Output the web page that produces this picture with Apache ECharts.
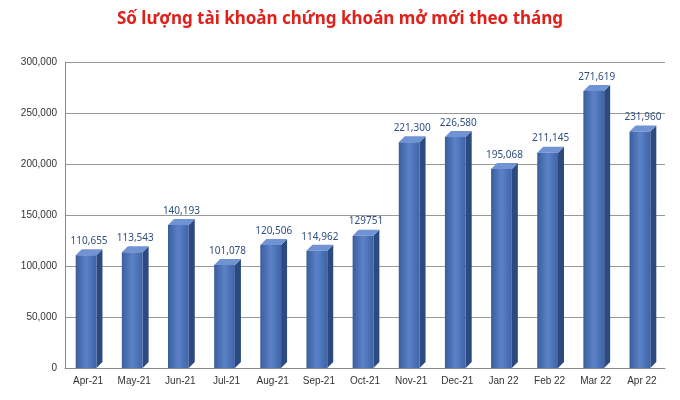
<!DOCTYPE html>
<html>
<head>
<meta charset="UTF-8">
<script src="https://cdn.jsdelivr.net/npm/echarts@6/dist/echarts.min.js"></script>
<style>
html,body{margin:0;padding:0;background:#fff;}
#main{width:680px;height:400px;}
</style>
</head>
<body>
<div id="main"></div>
<script>
var months = ['Apr-21','May-21','Jun-21','Jul-21','Aug-21','Sep-21','Oct-21','Nov-21','Dec-21','Jan 22','Feb 22','Mar 22','Apr 22'];
var accounts = [110655,113543,140193,101078,120506,114962,129751,221300,226580,195068,211145,271619,231960];
var valueLabels = ['110,655','113,543','140,193','101,078','120,506','114,962','129751','221,300','226,580','195,068','211,145','271,619','231,960'];

var chart = echarts.init(document.getElementById('main'));
var D = 6; // depth offset
chart.setOption({
  animation: false,
  title: {
    text: 'Số lượng tài khoản chứng khoán mở mới theo tháng',
    left: 'center', top: 6,
    textStyle: {color: '#e0201b', fontSize: 17, fontWeight: 'bold', fontFamily: 'Noto Sans'}
  },
  grid: {left: 65, right: 15, top: 62, bottom: 32},
  xAxis: {
    type: 'category', data: months,
    axisLine: {lineStyle: {color: '#888'}},
    axisTick: {show: false},
    axisLabel: {color: '#333', fontSize: 10, margin: 8}
  },
  yAxis: {
    type: 'value', min: 0, max: 300000, interval: 50000,
    axisLine: {show: true, lineStyle: {color: '#888'}},
    axisLabel: {color: '#333', fontSize: 10, formatter: function (v) { return v.toLocaleString('en-US'); }},
    splitLine: {lineStyle: {color: '#999'}}
  },
  series: [{
    type: 'custom',
    data: accounts.map(function (v, i) { return [i, v]; }),
    renderItem: function (params, api) {
      var i = api.value(0), v = api.value(1);
      var top = api.coord([i, v]);
      var base = api.coord([i, 0]);
      var w = api.size([1, 0])[0] * 0.45;
      var x0 = top[0] - w / 2 - 2, x1 = x0 + w;
      return {
        type: 'group',
        children: [
          {type: 'polygon', shape: {points: [[x1, top[1]], [x1 + D, top[1] - D], [x1 + D, base[1] - D], [x1, base[1]]]},
           style: {fill: '#2c4a80'}},
          {type: 'polygon', shape: {points: [[x0, top[1]], [x0 + D, top[1] - D], [x1 + D, top[1] - D], [x1, top[1]]]},
           style: {fill: '#6f93d3'}},
          {type: 'rect', shape: {x: x0, y: top[1], width: w, height: base[1] - top[1]},
           style: {fill: new echarts.graphic.LinearGradient(0, 0, 1, 0, [
             {offset: 0, color: '#3b5d9c'}, {offset: 0.5, color: '#5b82c8'}, {offset: 1, color: '#3f63a6'}])}},
          {type: 'text', style: {text: valueLabels[i], x: top[0] + 1, y: top[1] - D - 3,
            align: 'center', verticalAlign: 'bottom', fill: '#2f4f80', fontSize: 10, fontFamily: 'Noto Sans'}}
        ]
      };
    }
  }]
});
</script>
</body>
</html>
